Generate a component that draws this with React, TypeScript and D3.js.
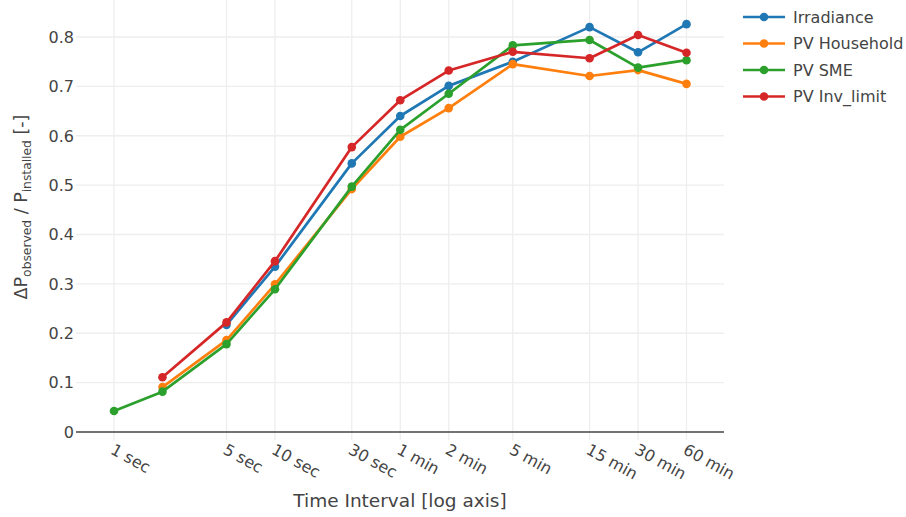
import React from "react";
import * as d3 from "d3";

// time intervals in seconds (log axis)
const intervals = [1, 2, 5, 10, 30, 60, 120, 300, 900, 1800, 3600];
const tickValues = [1, 5, 10, 30, 60, 120, 300, 900, 1800, 3600];
const tickLabels = ["1 sec", "5 sec", "10 sec", "30 sec", "1 min", "2 min", "5 min", "15 min", "30 min", "60 min"];
const yTicks = [0, 0.1, 0.2, 0.3, 0.4, 0.5, 0.6, 0.7, 0.8];

const irradiance = [null, null, 0.217, 0.335, 0.544, 0.64, 0.701, 0.75, 0.82, 0.769, 0.826];
const pvHousehold = [null, 0.091, 0.186, 0.299, 0.492, 0.598, 0.656, 0.745, 0.721, 0.733, 0.705];
const pvSme = [0.0425, 0.0817, 0.178, 0.289, 0.497, 0.612, 0.685, 0.783, 0.794, 0.738, 0.753];
const pvInvLimit = [null, 0.111, 0.222, 0.346, 0.577, 0.672, 0.732, 0.77, 0.757, 0.804, 0.768];

const seriesNames = ["Irradiance", "PV Household", "PV SME", "PV Inv_limit"];
const seriesValues = [irradiance, pvHousehold, pvSme, pvInvLimit];
const colors = ["#1f77b4", "#ff7f0e", "#2ca02c", "#d62728"];

const FONT = "'DejaVu Sans', Verdana, sans-serif";

export default function App() {
  const width = 906;
  const height = 517;
  const plotLeft = 76;
  const plotRight = 724;
  const plotTop = 0;
  const plotBottom = 440;

  const x = d3.scaleLog().domain([1, 3600]).range([114, 686.5]);
  const y = d3.scaleLinear().domain([0, 0.8]).range([432, 37]);

  const line = d3
    .line<[number, number | null]>()
    .defined(d => d[1] !== null)
    .x(d => x(d[0]))
    .y(d => y(d[1] as number));

  return (
    <svg
      width={width}
      height={height}
      style={{ position: "absolute", left: 0, top: 0, background: "#fff" }}
      fontFamily={FONT}
    >
      {/* grid */}
      {tickValues.map(t => (
        <line key={"gx" + t} x1={x(t)} x2={x(t)} y1={plotTop} y2={plotBottom} stroke="#eee" strokeWidth={1.3} />
      ))}
      {yTicks.slice(1).map(t => (
        <line key={"gy" + t} x1={plotLeft} x2={plotRight} y1={y(t)} y2={y(t)} stroke="#eee" strokeWidth={1.3} />
      ))}
      <line x1={plotLeft} x2={plotRight} y1={y(0)} y2={y(0)} stroke="#444" strokeWidth={1.5} />

      {/* y tick labels */}
      {yTicks.map(t => (
        <text key={"yl" + t} x={74} y={y(t)} dy="0.36em" textAnchor="end" fontSize={16} fill="#444">
          {t === 0 ? "0" : d3.format(".1f")(t)}
        </text>
      ))}

      {/* x tick labels, angled */}
      {tickValues.map((t, i) => (
        <text
          key={"xl" + t}
          transform={`translate(${x(t) + 1},443) rotate(29)`}
          dy="0.71em"
          textAnchor="start"
          fontSize={16}
          fill="#444"
        >
          {tickLabels[i]}
        </text>
      ))}

      {/* series */}
      {seriesValues.map((vals, si) => {
        const pts = intervals.map((t, i) => [t, vals[i]] as [number, number | null]);
        return (
          <g key={seriesNames[si]}>
            <path d={line(pts) || ""} fill="none" stroke={colors[si]} strokeWidth={2.7} strokeLinejoin="round" />
            {pts
              .filter(p => p[1] !== null)
              .map(p => (
                <circle key={p[0]} cx={x(p[0])} cy={y(p[1] as number)} r={4.3} fill={colors[si]} />
              ))}
          </g>
        );
      })}

      {/* axis titles */}
      <text x={400} y={507} textAnchor="middle" fontSize={18.5} fill="#444">
        Time Interval [log axis]
      </text>
      <text transform="translate(27,207) rotate(-90)" textAnchor="middle" fontSize={17.5} fill="#444">
        <tspan>ΔP</tspan>
        <tspan fontSize={12.3} dy="0.3em">observed</tspan>
        <tspan dy="-0.21em"> / P</tspan>
        <tspan fontSize={12.3} dy="0.3em">installed</tspan>
        <tspan dy="-0.21em"> [-]</tspan>
      </text>

      {/* legend */}
      {seriesNames.map((name, i) => {
        const ly = 17 + i * 26.5;
        return (
          <g key={"lg" + name}>
            <line x1={743} x2={785} y1={ly} y2={ly} stroke={colors[i]} strokeWidth={2.7} />
            <circle cx={764} cy={ly} r={4.3} fill={colors[i]} />
            <text x={793} y={ly} dy="0.36em" fontSize={16} fill="#444">
              {name}
            </text>
          </g>
        );
      })}
    </svg>
  );
}
